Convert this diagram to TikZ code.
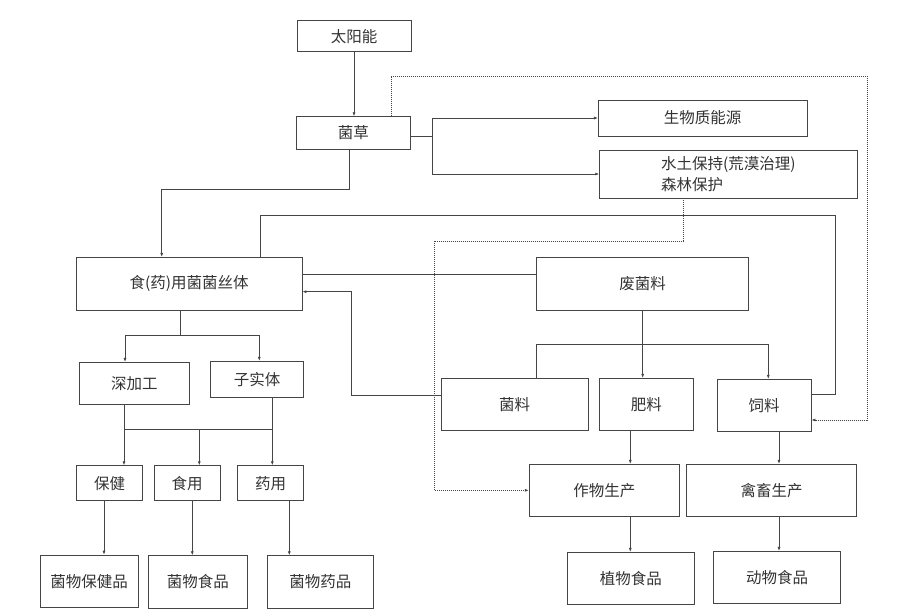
\documentclass[tikz,border=0pt]{standalone}
\usepackage{fontspec}
\setmainfont{Noto Sans CJK SC}
\usetikzlibrary{arrows.meta}
\definecolor{linegray}{HTML}{454545}
\definecolor{textgray}{HTML}{333333}

\begin{document}
\begin{tikzpicture}[x=1pt,y=-1pt,
    box/.style={draw=linegray, line width=0.8pt, inner sep=0pt, text=textgray,
        font=\fontsize{15.5}{21.7}\selectfont},
    link/.style={draw=linegray, line width=0.7pt},
    arr/.style={link, -{Latex[length=4pt,width=3pt]}},
    dotlink/.style={draw=linegray, line width=0.8pt, dash pattern=on 1pt off 1pt}]

    \useasboundingbox[fill=white] (0,0) rectangle (908,616);

    % nodes (boxes)
    \node[box, minimum width=114, minimum height=31] (sun) at (354,36.2) {太阳能};
    \node[box, minimum width=113.3, minimum height=32.6] (jc) at (353.3,133) {菌草};
    \node[box, minimum width=208.7, minimum height=36] (bio) at (702.7,118) {生物质能源};
    \node[box, minimum width=257.3, minimum height=48, align=left] (soil) at (728.3,174) {水土保持(荒漠治理)\\森林保护};
    \node[box, minimum width=225.7, minimum height=52.7] (myc) at (189.2,283.7) {食(药)用菌菌丝体};
    \node[box, minimum width=212, minimum height=53] (waste) at (642.7,283.8) {废菌料};
    \node[box, minimum width=110, minimum height=41.7] (deep) at (134.3,383.2) {深加工};
    \node[box, minimum width=93.4, minimum height=36.4] (fruit) at (257,379.5) {子实体};
    \node[box, minimum width=147.3, minimum height=52.4] (sub) at (514.7,404.5) {菌料};
    \node[box, minimum width=94, minimum height=52.4] (fert) at (646.3,404.5) {肥料};
    \node[box, minimum width=94, minimum height=52] (feed) at (764,405.3) {饲料};
    \node[box, minimum width=65.6, minimum height=35] (care) at (109.5,483.2) {保健};
    \node[box, minimum width=66, minimum height=35] (food) at (187,483.2) {食用};
    \node[box, minimum width=66, minimum height=35] (med) at (270.7,483.2) {药用};
    \node[box, minimum width=98.3, minimum height=52.3] (hp) at (89.2,581.2) {菌物保健品};
    \node[box, minimum width=98.3, minimum height=52.3] (fp) at (197.9,581.9) {菌物食品};
    \node[box, minimum width=106.7, minimum height=52.3] (mp) at (320.3,581.9) {菌物药品};
    \node[box, minimum width=150, minimum height=52] (crop) at (604.3,490.3) {作物生产};
    \node[box, minimum width=170.4, minimum height=52] (stock) at (771.5,490.3) {禽畜生产};
    \node[box, minimum width=127, minimum height=52] (plant) at (630.8,578.3) {植物食品};
    \node[box, minimum width=127, minimum height=52] (animal) at (777.2,577.3) {动物食品};

    % bends
    \coordinate (jsplit) at (432.7,136.7);
    \coordinate (dtop) at (867,76);
    \coordinate (ltop) at (835,215.3);
    \coordinate (dbend) at (434.3,241);
    \coordinate (wbar) at (642.7,344);
    \coordinate (mbar) at (180.7,335);
    \coordinate (dbar) at (199.3,429.3);

    % edges
    \draw[arr] (sun.south) -- (sun.south |- jc.north); % 太阳能 -> 菌草
    \draw[link] ([yshift=-3.7pt]jc.east) -- (jsplit);
    \draw[arr] (jsplit) |- (bio.west); % 菌草 -> 生物质能源
    \draw[arr] (jsplit) |- (soil.west); % 菌草 -> 水土保持
    \draw[arr] ([xshift=-4pt]jc.south) -- ++(0,39.7) -| ([xshift=-27.5pt]myc.north); % 菌草 -> 菌丝体
    \draw[dotlink,-{Latex[length=4pt,width=3pt]}] ([xshift=-19.3pt]jc.north east) |- (dtop) |- ([yshift=-14.7pt]feed.east); % 菌草 ..> 饲料
    \draw[link] ([xshift=70.8pt]myc.north) |- (ltop) |- ([yshift=11.3pt]feed.east); % 菌丝体 -- 饲料
    \draw[dotlink,-{Latex[length=4pt,width=3pt]}] ([xshift=-44.6pt]soil.south) |- (dbend) |- (crop.west); % 水土保持 ..> 作物生产
    \draw[link] ([yshift=9.7pt]myc.east) -- ([yshift=9.7pt]myc.east -| waste.west); % 菌丝体 -- 废菌料
    \draw[arr] ([yshift=8.8pt]sub.west) -- ++(-89.3,0) |- ([yshift=-8pt]myc.east); % 菌料 -> 菌丝体

    \draw[arr] (waste.south) -- (waste.south |- fert.north); % 废菌料 -> 肥料
    \draw[link] (waste.south west |- sub.north) |- (wbar); % 废菌料 -- 菌料
    \draw[arr] (wbar) -| ([xshift=4.3pt]feed.north); % 废菌料 -> 饲料

    \draw[link] ([xshift=-8.5pt]myc.south) -- (mbar);
    \draw[arr] (mbar) -| ([xshift=-9.3pt]deep.north); % 菌丝体 -> 深加工
    \draw[arr] (mbar) -| ([xshift=2.3pt]fruit.north); % 菌丝体 -> 子实体

    \draw[link] ([xshift=-10.3pt]deep.south |- dbar) -- ([xshift=15.3pt]fruit.south |- dbar);
    \draw[arr] ([xshift=-10.3pt]deep.south) -- ([xshift=-10.3pt]deep.south |- care.north); % 深加工 -> 保健
    \draw[arr] ([xshift=15.3pt]fruit.south) -- ([xshift=15.3pt]fruit.south |- med.north); % 子实体 -> 药用
    \draw[arr] (dbar) -- (dbar |- food.north); % -> 食用

    \draw[arr] ([xshift=-5.5pt]care.south) -- ([xshift=-5.5pt]care.south |- hp.north); % 保健 -> 菌物保健品
    \draw[arr] ([xshift=5.3pt]food.south) -- ([xshift=5.3pt]food.south |- fp.north); % 食用 -> 菌物食品
    \draw[arr] ([xshift=18.6pt]med.south) -- ([xshift=18.6pt]med.south |- mp.north); % 药用 -> 菌物药品
    \draw[arr] ([xshift=-16pt]fert.south) -- ([xshift=-16pt]fert.south |- crop.north); % 肥料 -> 作物生产
    \draw[arr] ([xshift=15pt]feed.south) -- ([xshift=15pt]feed.south |- stock.north); % 饲料 -> 禽畜生产
    \draw[arr] ([xshift=26pt]crop.south) -- ([xshift=26pt]crop.south |- plant.north); % 作物生产 -> 植物食品
    \draw[arr] ([xshift=7.5pt]stock.south) -- ([xshift=7.5pt]stock.south |- animal.north); % 禽畜生产 -> 动物食品

\end{tikzpicture}
\end{document}
